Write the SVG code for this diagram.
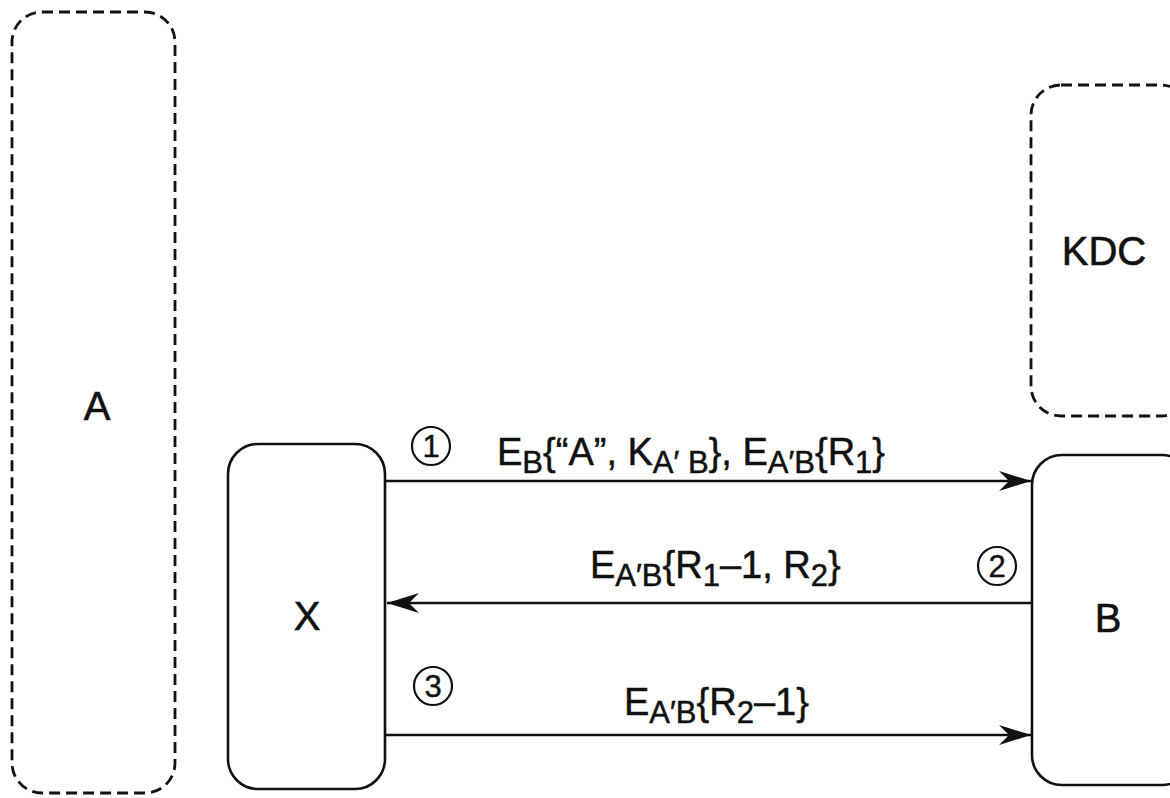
<svg xmlns="http://www.w3.org/2000/svg" width="1170" height="798" viewBox="0 0 1170 798">
<style>
.dash{fill:none;stroke:#111;stroke-width:2.8;stroke-dasharray:11 6}
.box{fill:none;stroke:#111;stroke-width:2.6}
.lbl{font-family:"Liberation Sans",Arial,sans-serif;font-size:40px;fill:#111;stroke:#111;stroke-width:0.6;text-anchor:middle}
.msg{font-family:"Liberation Sans",Arial,sans-serif;font-size:38px;fill:#111;stroke:#111;stroke-width:0.5}
.sub{font-size:31px}
.num{font-family:"Liberation Sans",Arial,sans-serif;font-size:31px;fill:#111;stroke:#111;stroke-width:0.4;text-anchor:middle}
.circ{fill:none;stroke:#111;stroke-width:2.2}
.conn{stroke:#111;stroke-width:2.4;fill:none}
</style>
<defs>
<marker id="ah" markerUnits="userSpaceOnUse" markerWidth="34" markerHeight="24" viewBox="-32 -12 34 24" refX="0" refY="0" orient="auto">
<path d="M0,0 L-32,-10 L-22,0 L-32,10 Z" fill="#111"/>
</marker>
</defs>
<rect width="1170" height="798" fill="#fff"/>
<g id="nodeA">
<rect class="dash" x="12" y="12" width="163" height="781" rx="30"/>
<text class="lbl" x="97" y="420">A</text>
</g>
<g id="nodeKDC">
<rect class="dash" x="1031" y="85" width="160" height="331" rx="30"/>
<text class="lbl" x="1104" y="265">KDC</text>
</g>
<g id="nodeX">
<rect class="box" x="228" y="444" width="157" height="345" rx="30"/>
<text class="lbl" x="307" y="630">X</text>
</g>
<g id="nodeB">
<rect class="box" x="1032" y="455" width="160" height="330" rx="30"/>
<text class="lbl" x="1108" y="632">B</text>
</g>
<g id="connectors">
<line class="conn" x1="385" y1="481" x2="1031" y2="481" marker-end="url(#ah)"/>
<line class="conn" x1="1032" y1="603" x2="387" y2="603" marker-end="url(#ah)"/>
<line class="conn" x1="385" y1="735" x2="1031" y2="735" marker-end="url(#ah)"/>
<circle class="circ" cx="431" cy="446" r="19"/>
<text class="num" x="431" y="457">1</text>
<circle class="circ" cx="997" cy="566" r="19"/>
<text class="num" x="997" y="577">2</text>
<circle class="circ" cx="433" cy="686" r="19"/>
<text class="num" x="433" y="697">3</text>
<text class="msg" x="497" y="465">E<tspan class="sub" dy="8">B</tspan><tspan dy="-8">{“A”, K</tspan><tspan class="sub" dy="8">A′ B</tspan><tspan dy="-8">}, E</tspan><tspan class="sub" dy="8">A′B</tspan><tspan dy="-8">{R</tspan><tspan class="sub" dy="8">1</tspan><tspan dy="-8">}</tspan></text>
<text class="msg" x="590" y="578">E<tspan class="sub" dy="8">A′B</tspan><tspan dy="-8">{R</tspan><tspan class="sub" dy="8">1</tspan><tspan dy="-8">–1, R</tspan><tspan class="sub" dy="8">2</tspan><tspan dy="-8">}</tspan></text>
<text class="msg" x="624" y="715">E<tspan class="sub" dy="8">A′B</tspan><tspan dy="-8">{R</tspan><tspan class="sub" dy="8">2</tspan><tspan dy="-8">–1}</tspan></text>
</g>
</svg>
